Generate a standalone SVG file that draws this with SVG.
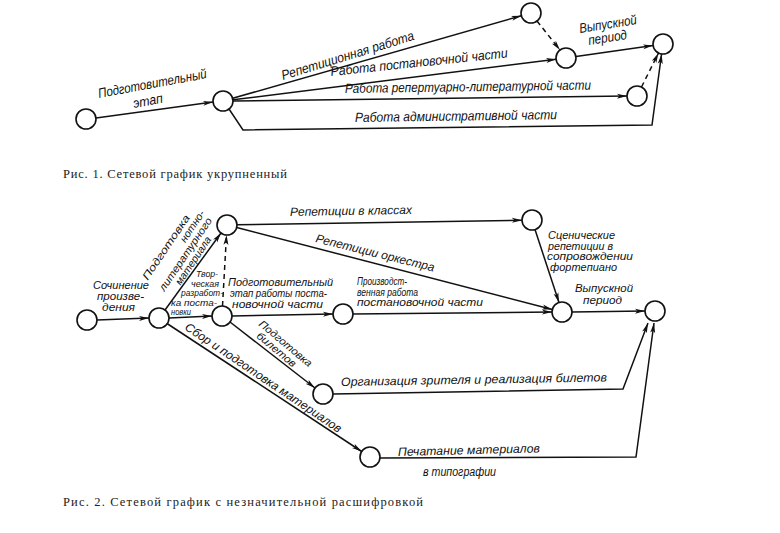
<svg xmlns="http://www.w3.org/2000/svg" width="780" height="533" viewBox="0 0 780 533">
<style>
.n{fill:#fff;stroke:#111;stroke-width:1.6}
.e{fill:none;stroke:#111;stroke-width:1.5}
.d{stroke-dasharray:5 4}
.l{font-family:"Liberation Sans",Arial,sans-serif;font-style:italic;font-size:13.5px;fill:#111}
.s{font-size:12px}
.k{font-size:10.5px}
.t{font-size:8.5px}
.c{font-family:"Liberation Serif","Times New Roman",serif;font-size:12.5px;fill:#222}
</style>
<defs>
<marker id="a" viewBox="0 0 10 6" refX="10" refY="3" markerWidth="10" markerHeight="6" markerUnits="userSpaceOnUse" orient="auto">
<path d="M0,0.5 L10,3 L0,5.5 L2.5,3 z" fill="#111"/>
</marker>
</defs>
<rect width="780" height="533" fill="#fff"/>

<!-- Figure 1 connectors -->
<g id="edges1">
<line class="e" x1="96" y1="118" x2="213" y2="102" marker-end="url(#a)"/>
<line class="e" x1="232.6" y1="98.3" x2="521.4" y2="15.7" marker-end="url(#a)"/>
<line class="e" x1="232.9" y1="99.8" x2="556.1" y2="59.2" marker-end="url(#a)"/>
<line class="e" x1="233" y1="101" x2="627" y2="96" marker-end="url(#a)"/>
<polyline class="e" points="229,109 243,130 652,125 661.6,54" marker-end="url(#a)"/>
<line class="e d" x1="537" y1="21" x2="560" y2="50" marker-end="url(#a)"/>
<line class="e" x1="576" y1="56.6" x2="653" y2="45.4" marker-end="url(#a)"/>
<line class="e d" x1="641.5" y1="87" x2="658.5" y2="53" marker-end="url(#a)"/>
</g>
<g id="labels1" class="l">
<text transform="translate(99,98) rotate(-10.5)" textLength="110" lengthAdjust="spacingAndGlyphs">Подготовительный</text>
<text transform="translate(134,108) rotate(-10.5)" textLength="30" lengthAdjust="spacingAndGlyphs">этап</text>
<text transform="translate(283,80) rotate(-17)" textLength="138" lengthAdjust="spacingAndGlyphs">Репетиционная работа</text>
<text transform="translate(331,76) rotate(-6)" textLength="178" lengthAdjust="spacingAndGlyphs">Работа постановочной части</text>
<text transform="translate(345,93) rotate(-0.8)" textLength="246" lengthAdjust="spacingAndGlyphs">Работа репертуарно-литературной части</text>
<text transform="translate(355,122) rotate(-0.8)" textLength="202" lengthAdjust="spacingAndGlyphs">Работа административной части</text>
<text transform="translate(580,33) rotate(-9)" textLength="58" lengthAdjust="spacingAndGlyphs">Выпускной</text>
<text transform="translate(589,45) rotate(-9)" textLength="39" lengthAdjust="spacingAndGlyphs">период</text>
</g>
<g id="f1n1"><circle class="n" cx="86" cy="119" r="10"/></g>
<g id="f1n2"><circle class="n" cx="223" cy="101" r="10"/></g>
<g id="f1n3"><circle class="n" cx="531" cy="13" r="10"/></g>
<g id="f1n4"><circle class="n" cx="566" cy="58" r="10"/></g>
<g id="f1n5"><circle class="n" cx="663" cy="44" r="10"/></g>
<g id="f1n6"><circle class="n" cx="637" cy="96" r="10"/></g>
<text class="c" x="63" y="178" textLength="224">Рис. 1. Сетевой график укрупненный</text>

<!-- Figure 2 connectors -->
<g id="edges2">
<line class="e" x1="97" y1="320" x2="149" y2="318" marker-end="url(#a)"/>
<line class="e" x1="165" y1="310" x2="221" y2="233" marker-end="url(#a)"/>
<line class="e" x1="169" y1="318" x2="212" y2="316" marker-end="url(#a)"/>
<line class="e d" x1="222.5" y1="306" x2="226.5" y2="235" marker-end="url(#a)"/>
<line class="e" x1="237" y1="224.8" x2="522" y2="220.2" marker-end="url(#a)"/>
<line class="e" x1="236.7" y1="227.5" x2="552.3" y2="309.5" marker-end="url(#a)"/>
<line class="e" x1="232" y1="316" x2="333" y2="314" marker-end="url(#a)"/>
<line class="e" x1="353" y1="314" x2="552" y2="312" marker-end="url(#a)"/>
<line class="e" x1="535" y1="229.5" x2="559" y2="302.5" marker-end="url(#a)"/>
<line class="e" x1="572" y1="312" x2="645" y2="311" marker-end="url(#a)"/>
<line class="e" x1="230" y1="322" x2="315" y2="388" marker-end="url(#a)"/>
<line class="e" x1="167" y1="323.5" x2="361.7" y2="451.5" marker-end="url(#a)"/>
<polyline class="e" points="333,394 623,389 648,323" marker-end="url(#a)"/>
<polyline class="e" points="380,458 636,457 654,323" marker-end="url(#a)"/>
</g>
<g id="labels2" class="l s">
<g class="k">
<text x="93" y="289" textLength="56" lengthAdjust="spacingAndGlyphs">Сочинение</text>
<text x="97" y="300" textLength="47" lengthAdjust="spacingAndGlyphs">произве-</text>
<text x="102" y="311" textLength="33" lengthAdjust="spacingAndGlyphs">дения</text>
</g>
<g class="k" transform="translate(184,252) rotate(-56)">
<text x="-44" y="-14" textLength="76" lengthAdjust="spacingAndGlyphs">Подготовка</text>
<text x="8" y="-4" textLength="36" lengthAdjust="spacingAndGlyphs">нотно-</text>
<text x="-44" y="6" textLength="86" lengthAdjust="spacingAndGlyphs">литературного</text>
<text x="-30" y="16" textLength="56" lengthAdjust="spacingAndGlyphs">материала</text>
</g>
<g class="t">
<text x="196" y="277" textLength="22" lengthAdjust="spacingAndGlyphs">Твор-</text>
<text x="191" y="286.5" textLength="28" lengthAdjust="spacingAndGlyphs">ческая</text>
<text x="181" y="296" textLength="42" lengthAdjust="spacingAndGlyphs">разработ-</text>
<text x="171" y="305.5" textLength="46" lengthAdjust="spacingAndGlyphs">ка поста-</text>
<text x="171" y="315" textLength="20" lengthAdjust="spacingAndGlyphs">новки</text>
</g>
<g class="k">
<text x="228" y="286" textLength="105" lengthAdjust="spacingAndGlyphs">Подготовительный</text>
<text x="230" y="297" textLength="97" lengthAdjust="spacingAndGlyphs">этап работы поста-</text>
<text x="232" y="308" textLength="91" lengthAdjust="spacingAndGlyphs">новочной  части</text>
<text x="357" y="285" textLength="50" lengthAdjust="spacingAndGlyphs">Производст-</text>
<text x="357" y="295.5" textLength="61" lengthAdjust="spacingAndGlyphs">венная работа</text>
<text x="357" y="306" textLength="126" lengthAdjust="spacingAndGlyphs">постановочной части</text>
<text x="548" y="239" textLength="67" lengthAdjust="spacingAndGlyphs">Сценические</text>
<text x="548" y="249.5" textLength="65" lengthAdjust="spacingAndGlyphs">репетиции в</text>
<text x="547" y="260" textLength="86" lengthAdjust="spacingAndGlyphs">сопровождении</text>
<text x="550" y="271" textLength="67" lengthAdjust="spacingAndGlyphs">фортепиано</text>
<text x="575" y="292" textLength="58" lengthAdjust="spacingAndGlyphs">Выпускной</text>
<text x="583" y="304" textLength="39" lengthAdjust="spacingAndGlyphs">период</text>
</g>
<text transform="translate(290,216) rotate(-1)" textLength="122" lengthAdjust="spacingAndGlyphs">Репетиции в классах</text>
<text transform="translate(315,242) rotate(14)" textLength="122" lengthAdjust="spacingAndGlyphs">Репетиции оркестра</text>
<g class="k" transform="translate(258,325) rotate(40)">
<text x="0" y="0" textLength="66" lengthAdjust="spacingAndGlyphs">Подготовка</text>
<text x="6" y="10.5" textLength="48" lengthAdjust="spacingAndGlyphs">билетов</text>
</g>
<text transform="translate(184,329) rotate(34)" textLength="186" lengthAdjust="spacingAndGlyphs">Сбор и подготовка материалов</text>
<text transform="translate(341,386) rotate(-1)" textLength="266" lengthAdjust="spacingAndGlyphs">Организация зрителя и реализация билетов</text>
<text transform="translate(398,456) rotate(-1.5)" textLength="142" lengthAdjust="spacingAndGlyphs">Печатание материалов</text>
<text x="423" y="476" textLength="73" lengthAdjust="spacingAndGlyphs">в типографии</text>
</g>
<g id="f2n1"><circle class="n" cx="87" cy="320" r="10"/></g>
<g id="f2n2"><circle class="n" cx="159" cy="318" r="10"/></g>
<g id="f2n3"><circle class="n" cx="227" cy="225" r="10"/></g>
<g id="f2n4"><circle class="n" cx="222" cy="316" r="10"/></g>
<g id="f2n5"><circle class="n" cx="343" cy="314" r="10"/></g>
<g id="f2n6"><circle class="n" cx="532" cy="220" r="10"/></g>
<g id="f2n7"><circle class="n" cx="562" cy="312" r="10"/></g>
<g id="f2n8"><circle class="n" cx="655" cy="311" r="10"/></g>
<g id="f2n9"><circle class="n" cx="323" cy="394" r="10"/></g>
<g id="f2n10"><circle class="n" cx="370" cy="457" r="10"/></g>
<text class="c" x="63" y="506" textLength="360">Рис. 2. Сетевой график с незначительной расшифровкой</text>
</svg>
